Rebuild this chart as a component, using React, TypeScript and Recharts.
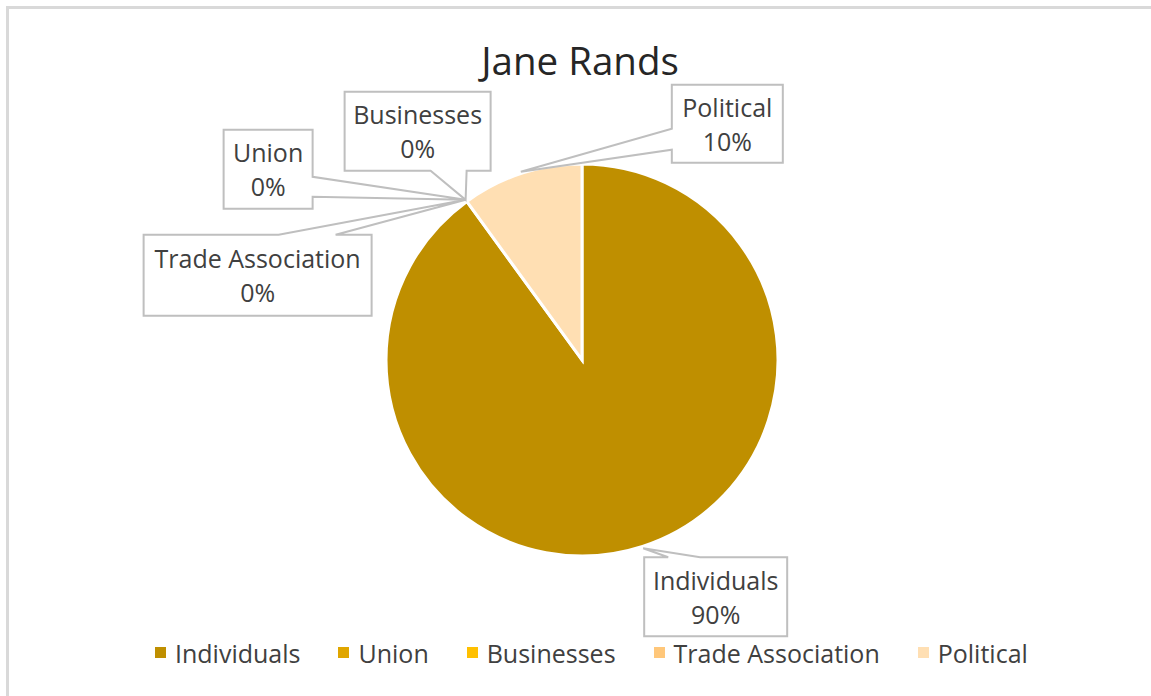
import React from 'react';
import { PieChart, Pie, Cell, Legend } from 'recharts';

const categories = ['Individuals', 'Union', 'Businesses', 'Trade Association', 'Political'];
const shares = [90, 0, 0, 0, 10];
const colors = ['#BF8F00', '#E0A600', '#FFC000', '#FFC77A', '#FFDFB3'];

const data = categories.map((name, i) => ({ name, value: shares[i] }));

const font = '"Open Sans", sans-serif';
const textColor = '#404040';
const boxStroke = '#BFBFBF';

// callout box placed relative to its anchor on the pie edge; tail spans a..b along one side
type Callout = { dx: number; dy: number; w: number; h: number; side: 'top' | 'bottom' | 'left' | 'right'; a: number; b: number };
const callouts: Callout[] = [
	{ dx: 1, dy: 9, w: 143, h: 79, side: 'top', a: 24, b: 56 },
	{ dx: -242, dy: -70, w: 89, h: 79, side: 'right', a: 47, b: 67 },
	{ dx: -121, dy: -108, w: 146, h: 79, side: 'bottom', a: 86, b: 122 },
	{ dx: -322, dy: 35, w: 228, h: 81, side: 'top', a: 135, b: 192 },
	{ dx: 151, dy: -87, w: 111, h: 78, side: 'left', a: 44, b: 65 },
];

const RAD = Math.PI / 180;

const calloutPath = (x: number, y: number, c: Callout, px: number, py: number) => {
	const r = x + c.w;
	const b = y + c.h;
	switch (c.side) {
		case 'top':
			return `M${x},${y} H${x + c.a} L${px},${py} L${x + c.b},${y} H${r} V${b} H${x} Z`;
		case 'bottom':
			return `M${x},${y} H${r} V${b} H${x + c.b} L${px},${py} L${x + c.a},${b} H${x} Z`;
		case 'left':
			return `M${x},${y} H${r} V${b} H${x} V${y + c.b} L${px},${py} L${x},${y + c.a} Z`;
		default:
			return `M${x},${y} H${r} V${y + c.a} L${px},${py} L${r},${y + c.b} V${b} H${x} Z`;
	}
};

const renderLabel = (props: any) => {
	const { cx, cy, midAngle, outerRadius, index, name, percent } = props;
	const c = callouts[index];
	if (!c) return null;
	const px = cx + Math.cos(-midAngle * RAD) * (outerRadius + 2);
	const py = cy + Math.sin(-midAngle * RAD) * (outerRadius + 2);
	const x = px + c.dx;
	const y = py + c.dy;
	const mx = x + c.w / 2;
	const my = y + c.h / 2;
	return (
		<g key={`callout-${index}`}>
			<path d={calloutPath(x, y, c, px, py)} fill="#FFFFFF" stroke={boxStroke} strokeWidth={2} />
			<text x={mx} y={my - 7} textAnchor="middle" fontFamily={font} fontSize={25} fill={textColor}>
				{name}
			</text>
			<text x={mx} y={my + 27} textAnchor="middle" fontFamily={font} fontSize={25} fill={textColor}>
				{`${Math.round(percent * 100)}%`}
			</text>
		</g>
	);
};

const renderLegend = () => (
	<ul
		style={{
			display: 'flex',
			justifyContent: 'flex-start',
			alignItems: 'center',
			listStyle: 'none',
			margin: 0,
			padding: '0 0 0 155px',
			height: 33,
			fontFamily: font,
			fontSize: 25,
			color: textColor,
			gap: 38,
		}}
	>
		{categories.map((name, i) => (
			<li key={name} style={{ display: 'flex', alignItems: 'center' }}>
				<span style={{ width: 11, height: 11, background: colors[i], marginRight: 9, display: 'inline-block' }} />
				<span>{name}</span>
			</li>
		))}
	</ul>
);

const App: React.FC = () => (
	<div style={{ position: 'fixed', left: 0, top: 0, width: 1151, height: 696, overflow: 'hidden', background: '#FFFFFF' }}>
		<div
			style={{
				position: 'absolute',
				left: 6,
				top: 6,
				width: 1200,
				height: 760,
				borderTop: '3px solid #D9D9D9',
				borderLeft: '3px solid #D9D9D9',
			}}
		/>
		<svg width={1151} height={100} style={{ position: 'absolute', left: 0, top: 0 }}>
			<text x={580} y={75} textAnchor="middle" fontFamily={font} fontSize={38.5} fill="#262626">
				Jane Rands
			</text>
		</svg>
		<div style={{ position: 'absolute', left: 0, top: 0 }}>
			<PieChart width={1151} height={696} margin={{ top: 0, right: 0, bottom: 0, left: 0 }}>
				<Pie
					data={data}
					dataKey="value"
					nameKey="name"
					cx={582}
					cy={360}
					outerRadius={196}
					startAngle={90}
					endAngle={-270}
					stroke="#FFFFFF"
					strokeWidth={3}
					label={renderLabel}
					labelLine={false}
					isAnimationActive={false}
				>
					{data.map((d, i) => (
						<Cell key={d.name} fill={colors[i]} />
					))}
				</Pie>
				<Legend
					verticalAlign="bottom"
					content={renderLegend}
					wrapperStyle={{ left: 0, bottom: 27, width: 1151 }}
				/>
			</PieChart>
		</div>
	</div>
);

export default App;
